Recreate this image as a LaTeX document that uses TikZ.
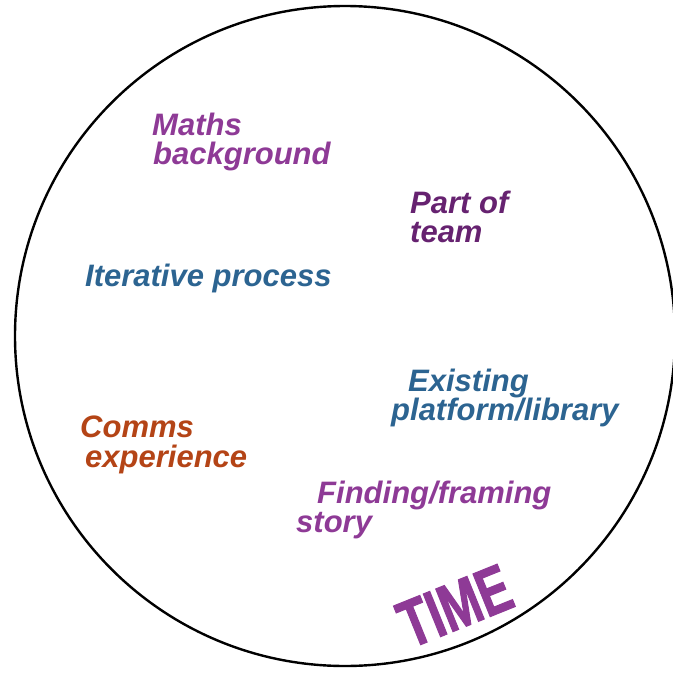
\documentclass[tikz,border=0pt]{standalone}
\usepackage{fontspec}
\setmainfont{Liberation Sans}
\newfontfamily\stampfont[FakeStretch=0.72,FakeBold=1.5]{Liberation Sans Bold}
\definecolor{plum}{RGB}{142,58,150}
\definecolor{darkplum}{RGB}{102,34,112}
\definecolor{steel}{RGB}{44,100,145}
\definecolor{rust}{RGB}{180,68,22}
\begin{document}
\begin{tikzpicture}[x=1pt,y=-1pt,
  lbl/.style={anchor=base west,inner sep=0pt,font=\fontsize{31}{36}\selectfont\bfseries\itshape}]
\useasboundingbox (0,0) rectangle (673,673);
\clip (0,0) rectangle (673,673);
% outer ring
\draw[line width=2.4pt] (345,336) circle[radius=330];
% labels
\node[lbl,text=plum] (maths1) at (152,135) {Maths};
\node[lbl,text=plum] (maths2) at (153,164) {background};
\node[lbl,text=darkplum] (team1) at (410,213) {Part of};
\node[lbl,text=darkplum] (team2) at (410,242) {team};
\node[lbl,text=steel] (iter) at (85,286) {Iterative process};
\node[lbl,text=steel] (plat1) at (408,391) {Existing};
\node[lbl,text=steel] (plat2) at (391,420) {platform/library};
\node[lbl,text=rust] (comms1) at (80,437) {Comms};
\node[lbl,text=rust] (comms2) at (85,467) {experience};
\node[lbl,text=plum] (story1) at (317,503) {Finding/framing};
\node[lbl,text=plum] (story2) at (296,532) {story};
\node[inner sep=0pt,text=plum,rotate=22,font=\fontsize{67}{72}\stampfont] (time) at (455,606) {TIME};
\end{tikzpicture}
\end{document}
